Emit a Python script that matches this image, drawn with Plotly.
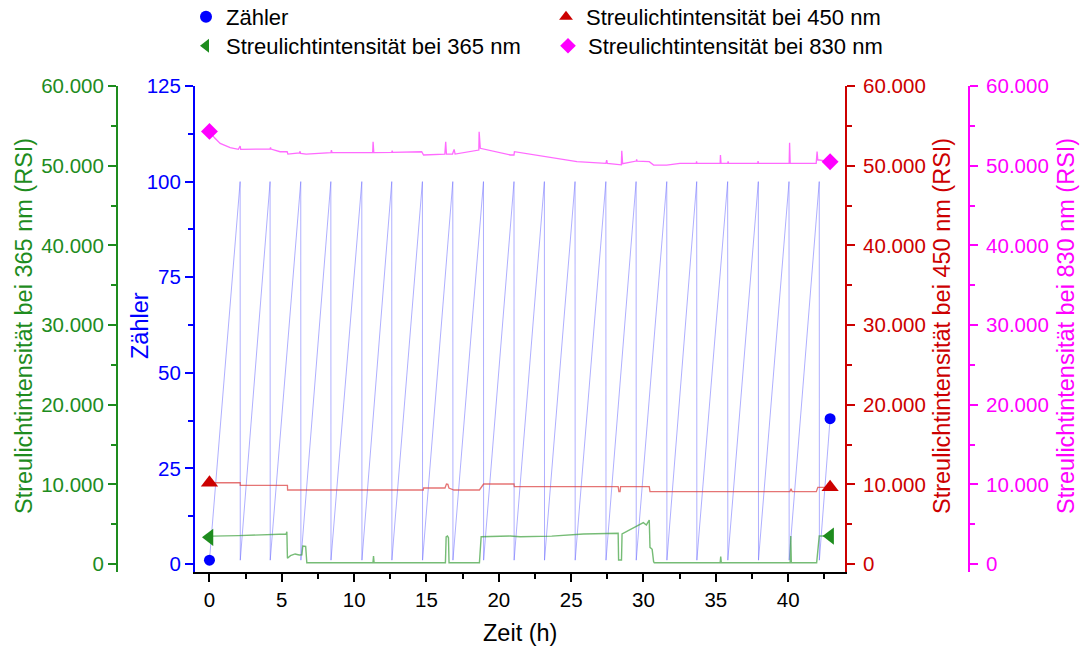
import plotly.graph_objects as go

W, H = 1081, 646

# ---------------- data ----------------
# Zähler (counter) sawtooth vertices
counter_t = [0.00, 2.12, 2.13, 4.19, 4.20, 6.31, 6.32, 8.39, 8.40, 10.53, 10.54,
             12.60, 12.61, 14.72, 14.73, 16.82, 16.83, 18.94, 18.95, 21.05, 21.06,
             23.15, 23.16, 25.27, 25.28, 27.40, 27.41, 29.49, 29.50, 31.61, 31.62,
             33.68, 33.69, 35.82, 35.83, 37.94, 37.95, 40.06, 40.07, 42.15, 42.16, 42.90]
counter_v = [1, 100, 1, 100, 1, 100, 1, 100, 1, 100, 1,
             100, 1, 100, 1, 100, 1, 100, 1, 100, 1,
             100, 1, 100, 1, 100, 1, 100, 1, 100, 1,
             100, 1, 100, 1, 100, 1, 100, 1, 100, 1, 38]

# Streulichtintensität bei 450 nm
t450 = [0.00, 2.12, 2.13, 5.39, 5.40, 14.78, 14.80, 16.28, 16.38, 16.48, 16.55,
        16.90, 18.66, 18.95, 21.05, 21.07, 28.25, 28.30, 28.38, 28.42, 30.40,
        30.45, 40.12, 40.20, 40.28, 41.95, 42.05, 42.90]
v450 = [10200, 10200, 9870, 9870, 9290, 9290, 9540, 9540, 10040, 10000, 9540,
        9290, 9290, 10040, 10040, 9700, 9700, 9080, 9080, 9700, 9700,
        9080, 9080, 9450, 9080, 9080, 9630, 9630]

# Streulichtintensität bei 365 nm
t365 = [0.00, 0.20, 2.00, 4.00, 5.30, 5.35, 5.39, 5.60, 5.92, 6.20, 6.39, 6.45,
        6.65, 6.73, 11.30, 11.34, 11.38, 16.31, 16.36, 16.45, 16.52, 16.56,
        18.66, 18.78, 20.78, 21.47, 23.66, 25.85, 28.25, 28.28, 28.48, 28.52,
        29.30, 29.99, 30.20, 30.40, 30.45, 30.60, 30.70, 30.75, 35.30, 35.34,
        35.38, 40.14, 40.18, 40.22, 41.97, 42.15, 42.90]
v365 = [3350, 3500, 3560, 3650, 3770, 4050, 720, 1050, 1260, 1130, 1150, 2260,
        2200, 160, 160, 1000, 160, 160, 3400, 3510, 3300, 160,
        160, 3430, 3510, 3420, 3500, 3770, 3850, 500, 500, 3770,
        4560, 5190, 4900, 5520, 2090, 1840, 290, 160, 160, 920,
        160, 160, 3510, 160, 160, 3510, 3510]

# Streulichtintensität bei 830 nm
t830 = [0.00, 0.35, 0.74, 1.43, 2.00, 2.12, 2.16, 4.19, 4.22, 4.25, 4.88, 5.37,
        5.42, 6.22, 6.25, 6.30, 6.68, 8.40, 8.43, 8.47, 10.47, 11.28, 11.31, 11.36,
        12.60, 12.63, 12.66, 14.67, 14.80, 16.27, 16.33, 16.38, 16.80, 16.91,
        16.98, 18.52, 18.62, 18.64, 18.72, 20.80, 21.05, 21.08, 23.10, 25.40, 27.40,
        27.46, 27.50, 28.27, 28.47, 28.50, 28.56, 29.50, 29.53, 29.56, 30.40, 30.70,
        31.60, 32.52, 33.65, 33.67, 33.70, 35.30, 35.32, 35.36, 35.82, 35.85,
        35.88, 37.90, 37.92, 37.95, 40.07, 40.10, 40.14, 41.94, 42.00, 42.05,
        42.15, 42.90]
v830 = [54300, 53500, 52800, 52260, 52050, 52470, 52050, 52090, 52300, 52090, 51750, 51750,
        51460, 51600, 51800, 51550, 51460, 51630, 51950, 51630, 51630, 51630, 53000, 51630,
        51660, 51900, 51660, 51750, 51340, 51460, 53000, 51460, 51460, 52050,
        51460, 51960, 51960, 54260, 52180, 51340, 51340, 51760, 51210, 50500, 50290,
        50700, 50290, 50100, 50100, 51880, 50250, 50580, 50780, 50580, 50500, 50080,
        50080, 50290, 50290, 50540, 50290, 50290, 51340, 50290, 50290, 50540,
        50290, 50290, 50560, 50290, 50290, 52880, 50290, 50290, 51760, 50710,
        50710, 50500]

# ---------------- colours ----------------
BLUE = "#0000FF"
GREEN = "#1E8C1E"
RED = "#CC0000"
MAG = "#FF00FF"
FONT = "Liberation Sans, Arial, sans-serif"

fig = go.Figure()

# lines
fig.add_trace(go.Scatter(x=counter_t, y=counter_v, mode="lines", yaxis="y",
                         line=dict(color="rgba(110,110,255,0.55)", width=1),
                         showlegend=False, hoverinfo="skip"))
fig.add_trace(go.Scatter(x=t450, y=v450, mode="lines", yaxis="y3",
                         line=dict(color="rgba(220,70,70,0.75)", width=1.3),
                         showlegend=False, hoverinfo="skip"))
fig.add_trace(go.Scatter(x=t365, y=v365, mode="lines", yaxis="y2",
                         line=dict(color="rgba(60,160,60,0.7)", width=1.4),
                         showlegend=False, hoverinfo="skip"))
fig.add_trace(go.Scatter(x=t830, y=v830, mode="lines", yaxis="y4",
                         line=dict(color="rgba(255,80,255,0.85)", width=1.3),
                         showlegend=False, hoverinfo="skip"))

# end-point markers (also legend entries)
fig.add_trace(go.Scatter(x=[counter_t[0], counter_t[-1]], y=[counter_v[0], counter_v[-1]],
                         mode="markers", yaxis="y", name="Zähler", legend="legend",
                         marker=dict(symbol="circle", size=11, color=BLUE)))
fig.add_trace(go.Scatter(x=[t450[0], t450[-1]], y=[v450[0], v450[-1]],
                         mode="markers", yaxis="y3", name="Streulichtintensität bei 450 nm",
                         legend="legend2",
                         marker=dict(symbol="triangle-up", size=15, color=RED)))
fig.add_trace(go.Scatter(x=[t365[0], t365[-1]], y=[v365[0], v365[-1]],
                         mode="markers", yaxis="y2", name="Streulichtintensität bei 365 nm",
                         legend="legend3",
                         marker=dict(symbol="triangle-left", size=15, color=GREEN)))
fig.add_trace(go.Scatter(x=[t830[0], t830[-1]], y=[v830[0], v830[-1]],
                         mode="markers", yaxis="y4", name="Streulichtintensität bei 830 nm",
                         legend="legend4",
                         marker=dict(symbol="diamond", size=13, color=MAG)))

# ---------------- geometry ----------------
x_l, x_r = 195, 845
y_t, y_b = 86, 572
dom_x = [x_l / W, x_r / W]
dom_y = [1 - y_b / H, 1 - y_t / H]

TICKF = dict(family=FONT, size=20.5)


def yax(color, rng, dtick, minor_dtick, **kw):
    d = dict(range=rng, domain=dom_y, showgrid=False, zeroline=False,
             showline=True, linecolor=color, linewidth=2,
             ticks="outside", ticklen=8, tickwidth=2, tickcolor=color,
             tick0=0, dtick=dtick,
             minor=dict(ticks="outside", ticklen=5, tickwidth=2, tickcolor=color,
                        dtick=minor_dtick, tick0=0, showgrid=False),
             tickfont=dict(TICKF, color=color), automargin=False)
    d.update(kw)
    return d


rng_big = [-1004, 60000]

fig.update_layout(
    width=W, height=H,
    margin=dict(l=0, r=0, t=0, b=0, autoexpand=False),
    paper_bgcolor="white", plot_bgcolor="white",
    separators=",.",
    font=dict(family=FONT, size=20, color="black"),
    xaxis=dict(domain=dom_x, range=[-1, 43.93], showgrid=False, zeroline=False,
               showline=True, linecolor="black", linewidth=2,
               ticks="outside", ticklen=8, tickwidth=2, tickcolor="black",
               tick0=0, dtick=5,
               minor=dict(ticks="outside", ticklen=5, tickwidth=2, tickcolor="black",
                          dtick=2.5, tick0=0, showgrid=False),
               tickfont=TICKF, automargin=False, anchor="y"),
    yaxis=yax(BLUE, [-2.09, 125], 25, 12.5, anchor="x", side="left"),
    yaxis2=yax(GREEN, rng_big, 10000, 5000, tickformat=",d", anchor="free",
               overlaying="y", side="left", position=117 / W),
    yaxis3=yax(RED, rng_big, 10000, 5000, tickformat=",d", anchor="x",
               overlaying="y", side="right", ticklabelstandoff=4),
    yaxis4=yax(MAG, rng_big, 10000, 5000, tickformat=",d", anchor="free",
               overlaying="y", side="right", position=969 / W, ticklabelstandoff=4),
)

LEGF = dict(family=FONT, size=22, color="black")
leg_common = dict(bgcolor="rgba(0,0,0,0)", font=LEGF, xanchor="left", yanchor="middle",
                  itemsizing="constant")
fig.update_layout(
    legend=dict(leg_common, x=186 / W, y=1 - 17 / H),
    legend2=dict(leg_common, x=546 / W, y=1 - 17 / H),
    legend3=dict(leg_common, x=186 / W, y=1 - 46 / H),
    legend4=dict(leg_common, x=548 / W, y=1 - 46 / H),
)

TITLEF = 23.5
titles = [
    ("Streulichtintensität bei 365 nm (RSI)", 24, GREEN),
    ("Zähler", 140, BLUE),
    ("Streulichtintensität bei 450 nm (RSI)", 942, RED),
    ("Streulichtintensität bei 830 nm (RSI)", 1066, MAG),
]
for text, xp, col in titles:
    fig.add_annotation(text=text, x=xp / W, y=1 - 326 / H, xref="paper", yref="paper",
                       textangle=-90, showarrow=False, xanchor="center", yanchor="middle",
                       font=dict(family=FONT, size=TITLEF, color=col))
fig.add_annotation(text="Zeit (h)", x=520 / W, y=1 - 633 / H, xref="paper", yref="paper",
                   showarrow=False, xanchor="center", yanchor="middle",
                   font=dict(family=FONT, size=TITLEF, color="black"))

fig.write_html("out.html")
